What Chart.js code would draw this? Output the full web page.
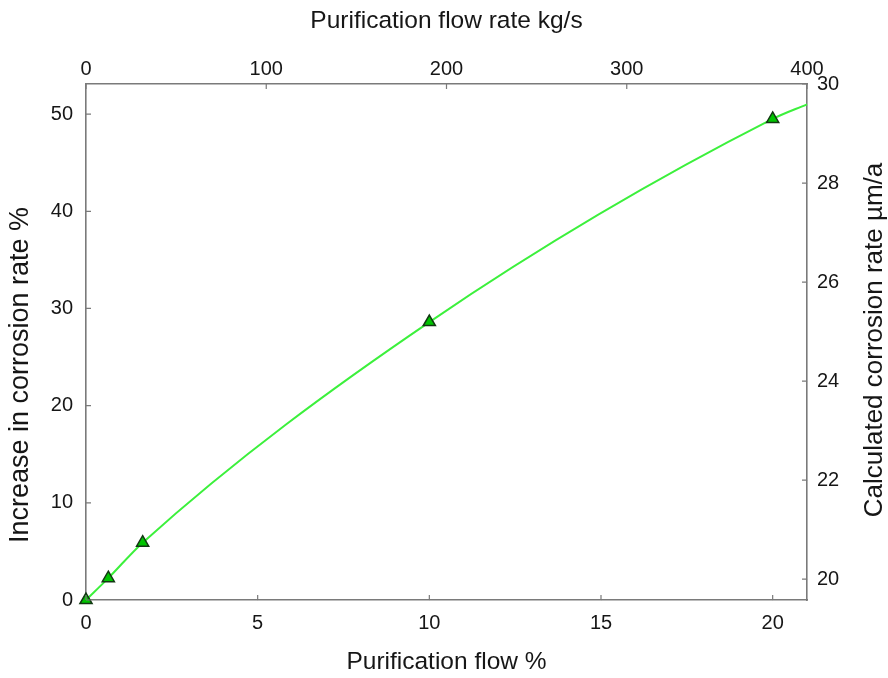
<!DOCTYPE html>
<html>
<head>
<meta charset="utf-8">
<script src="https://cdn.jsdelivr.net/npm/chart.js@4"></script>
<style>
  html, body { margin: 0; padding: 0; background: #fff; }
  #wrap { width: 888px; height: 678px; }
</style>
</head>
<body>
<div id="wrap"><canvas id="chart" width="888" height="678"></canvas></div>
<script>
// Measured points (bottom axis %, left axis %)
const flowPct = [0, 0.65, 1.65, 10, 20];
const increasePct = [0, 2.25, 5.9, 28.6, 49.5];

// Fitted curve through the points, running to the right edge
const curveFlow = [0, 0.65, 1.65, 10, 20, 21];
const curveIncrease = [0, 2.25, 5.9, 28.6, 49.5, 51.0];

// Axis ticks
const bottomTicks = [0, 5, 10, 15, 20];
const topTicks = [0, 100, 200, 300, 400];
const leftTicks = [0, 10, 20, 30, 40, 50];
const rightTicks = [20, 22, 24, 26, 28, 30];

const FONT = '"Liberation Sans", Arial, Helvetica, sans-serif';
const TEXT = '#161616';
const FRAME = '#7a7a7a';

const frameAxis = (extra) => Object.assign({
    type: 'linear',
    grid: { display: true, drawOnChartArea: false, tickLength: 0 },
    border: { display: true, color: FRAME, width: 1.6 }
}, extra);

// Inward tick marks + vertical titles
const decorations = {
    id: 'decorations',
    afterDraw(chart) {
        const ctx = chart.ctx;
        const a = chart.chartArea;
        const len = 5;
        ctx.save();
        ctx.strokeStyle = FRAME;
        ctx.lineWidth = 1.2;
        ctx.beginPath();
        bottomTicks.forEach(v => {
            const px = chart.scales.x.getPixelForValue(v);
            ctx.moveTo(px, a.bottom); ctx.lineTo(px, a.bottom - len);
        });
        topTicks.forEach(v => {
            const px = chart.scales.x2.getPixelForValue(v);
            ctx.moveTo(px, a.top); ctx.lineTo(px, a.top + len);
        });
        leftTicks.forEach(v => {
            const py = chart.scales.y.getPixelForValue(v);
            ctx.moveTo(a.left, py); ctx.lineTo(a.left + len, py);
        });
        rightTicks.forEach(v => {
            const py = chart.scales.y2.getPixelForValue(v);
            ctx.moveTo(a.right, py); ctx.lineTo(a.right - len, py);
        });
        ctx.stroke();

        ctx.fillStyle = TEXT;
        ctx.textAlign = 'center';
        ctx.textBaseline = 'middle';
        ctx.font = '27px ' + FONT;
        ctx.translate(21, 375);
        ctx.rotate(-Math.PI / 2);
        ctx.fillText('Increase in corrosion rate %', 0, 0);
        ctx.restore();

        ctx.save();
        ctx.fillStyle = TEXT;
        ctx.textAlign = 'center';
        ctx.textBaseline = 'middle';
        ctx.font = '26px ' + FONT;
        ctx.translate(875, 340);
        ctx.rotate(-Math.PI / 2);
        ctx.fillText('Calculated corrosion rate \u00b5m/a', 0, 0);
        ctx.restore();
    }
};

new Chart(document.getElementById('chart'), {
    type: 'line',
    data: {
        datasets: [
            {
                label: 'Measured',
                data: flowPct.map((x, i) => ({ x, y: increasePct[i] })),
                showLine: false,
                pointStyle: 'triangle',
                pointRadius: 7,
                pointBackgroundColor: '#00c400',
                pointBorderColor: '#123812',
                pointBorderWidth: 1.5,
                order: 0
            },
            {
                label: 'Curve',
                data: curveFlow.map((x, i) => ({ x, y: curveIncrease[i] })),
                borderColor: '#3cf03c',
                borderWidth: 2,
                pointRadius: 0,
                cubicInterpolationMode: 'monotone',
                fill: false,
                order: 1
            }
        ]
    },
    options: {
        responsive: false,
        animation: false,
        clip: false,
        layout: { padding: 0 },
        plugins: { legend: { display: false }, tooltip: { enabled: false } },
        scales: {
            x: frameAxis({
                position: 'bottom', min: 0, max: 21,
                afterBuildTicks: s => { s.ticks = bottomTicks.map(v => ({ value: v })); },
                afterFit: s => { s.height = 78; },
                ticks: { color: TEXT, font: { family: FONT, size: 20 }, padding: 11, maxRotation: 0 },
                title: { display: true, text: 'Purification flow %', color: TEXT,
                         font: { family: FONT, size: 24.5 }, padding: { top: 0, bottom: 1 } }
            }),
            x2: frameAxis({
                position: 'top', min: 0, max: 400,
                afterBuildTicks: s => { s.ticks = topTicks.map(v => ({ value: v })); },
                afterFit: s => { s.height = 84; },
                ticks: { color: TEXT, font: { family: FONT, size: 20 }, padding: 3, maxRotation: 0 },
                title: { display: true, text: 'Purification flow rate kg/s', color: TEXT,
                         font: { family: FONT, size: 24.5 }, padding: { top: 7, bottom: 0 } }
            }),
            y: frameAxis({
                position: 'left', min: 0, max: 53.1,
                afterBuildTicks: s => { s.ticks = leftTicks.map(v => ({ value: v })); },
                afterFit: s => { s.width = 86; },
                ticks: { color: TEXT, font: { family: FONT, size: 20 }, padding: 13 }
            }),
            y2: frameAxis({
                position: 'right', min: 19.58, max: 30,
                afterBuildTicks: s => { s.ticks = rightTicks.map(v => ({ value: v })); },
                afterFit: s => { s.width = 81; },
                ticks: { color: TEXT, font: { family: FONT, size: 20 }, padding: 10 }
            })
        }
    },
    plugins: [decorations]
});
</script>
</body>
</html>
